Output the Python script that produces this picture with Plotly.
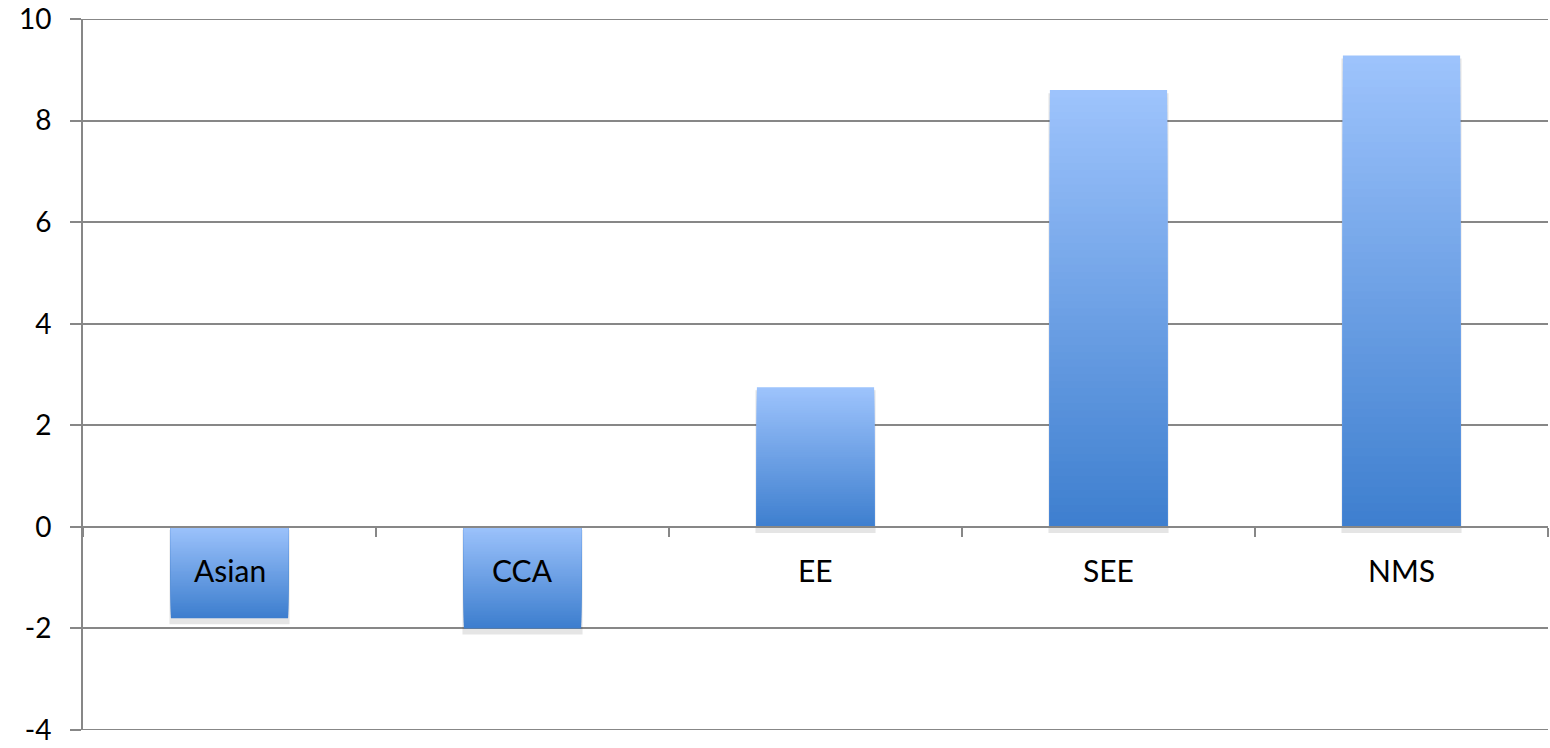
import plotly.graph_objects as go

categories = ["Asian", "CCA", "EE", "SEE", "NMS"]
values = [-1.8, -2.0, 2.75, 8.6, 9.28]
y_ticks = [-4, -2, 0, 2, 4, 6, 8, 10]
y_tick_labels = ["-4", "-2", "0", "2", "4", "6", "8", "10"]

LIGHT = (157, 195, 252)
DARK = (61, 126, 206)
GRID = "#878787"
FONT = "Lato"


def lerp(a, b, t):
    return "rgb(%d,%d,%d)" % tuple(round(a[i] + (b[i] - a[i]) * t) for i in range(3))


fig = go.Figure()

# soft shadow behind the bars (mostly below)
fig.add_trace(go.Bar(
    x=categories,
    y=[abs(v) + 0.06 for v in values],
    base=[min(v, 0) - 0.12 for v in values],
    width=0.41,
    marker=dict(color="rgba(0,0,0,0.10)", line=dict(width=0)),
    hoverinfo="skip", showlegend=False,
))

# gradient bars drawn as nested overlays
N = 60
for k in range(N, 0, -1):
    f = k / N
    cols = [lerp(DARK, LIGHT, f) if v >= 0 else lerp(LIGHT, DARK, f) for v in values]
    fig.add_trace(go.Bar(
        x=categories,
        y=[v * f for v in values],
        width=0.4,
        marker=dict(color=cols, line=dict(width=0)),
        hoverinfo="skip" if k != N else "x+y",
        showlegend=False,
    ))

# invisible trace to carry the zero-line category axis
fig.add_trace(go.Scatter(x=categories, y=[None] * len(categories), xaxis="x2",
                         mode="markers", showlegend=False, hoverinfo="skip"))

annotations = [
    dict(x=c, y=-0.85, text=c, showarrow=False, xref="x", yref="y",
         font=dict(family=FONT, size=30, color="black"))
    for c in categories
]

# gridlines at the two ends of the value range (plotly clips these itself)
edge_lines = [
    dict(type="line", xref="paper", x0=0, x1=1, yref="y", y0=t, y1=t,
         line=dict(color=GRID, width=2), layer="below")
    for t in (y_ticks[0], y_ticks[-1])
]

fig.update_layout(
    width=1550, height=748,
    margin=dict(l=83, r=2, t=19, b=18),
    paper_bgcolor="white", plot_bgcolor="white",
    barmode="overlay",
    font=dict(family=FONT, size=28, color="black"),
    annotations=annotations,
    shapes=edge_lines,
    xaxis=dict(type="category", range=[-0.5, 4.5], showticklabels=False,
               showgrid=False, zeroline=False, showline=False, ticks="",
               automargin=False),
    xaxis2=dict(type="category", range=[-0.5, 4.5], overlaying="x", anchor="free",
                position=4 / 14, side="bottom", showticklabels=False,
                showgrid=False, zeroline=False, showline=True, linecolor=GRID,
                linewidth=2, ticks="outside", tickson="boundaries", ticklen=9,
                tickcolor=GRID, tickwidth=2, categoryorder="array",
                categoryarray=categories, automargin=False),
    yaxis=dict(range=[-4, 10], tickvals=y_ticks, ticktext=y_tick_labels,
               showgrid=True, gridcolor=GRID,
               gridwidth=2, zeroline=False, showline=True, linecolor=GRID,
               linewidth=2, ticks="outside", ticklen=11, tickcolor=GRID,
               tickwidth=2, ticklabelstandoff=13, automargin=False,
               tickfont=dict(family=FONT, size=28, color="black")),
)

fig.write_html("out.html", config={"displayModeBar": False},
               post_script="document.body.style.margin='0px';")
